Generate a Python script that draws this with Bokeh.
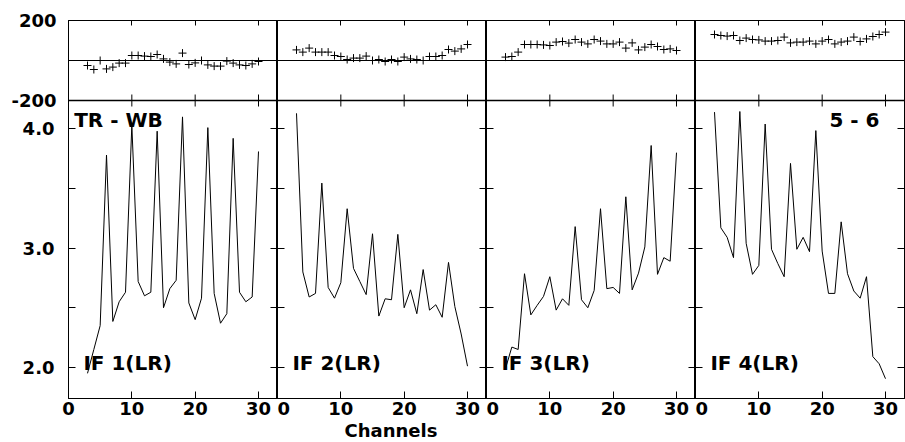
import math
from bokeh.plotting import figure
from bokeh.models import (Range1d, LinearAxis, FixedTicker, Span, Label, Title,
                          PrintfTickFormatter)
from bokeh.layouts import row
from bokeh.embed import file_html
from bokeh.resources import INLINE

# ---------------- data ----------------
channels = list(range(3, 31))

amp_if1 = [1.95, 2.15, 2.35, 3.78, 2.385, 2.55, 2.63, 4.03, 2.72, 2.60, 2.63, 3.98, 2.50, 2.66,
           2.73, 4.10, 2.54, 2.40, 2.58, 4.01, 2.62, 2.37, 2.45, 3.92, 2.63, 2.55, 2.59, 3.81]
amp_if2 = [4.13, 2.80, 2.59, 2.62, 3.545, 2.67, 2.58, 2.71, 3.33, 2.83, 2.72, 2.61, 3.12, 2.43,
           2.575, 2.567, 3.115, 2.50, 2.65, 2.45, 2.82, 2.48, 2.525, 2.42, 2.88, 2.51, 2.28, 2.01]
amp_if3 = [1.99, 2.17, 2.15, 2.785, 2.44, 2.52, 2.595, 2.76, 2.48, 2.575, 2.52, 3.18, 2.567, 2.50,
           2.645, 3.33, 2.66, 2.67, 2.62, 3.43, 2.65, 2.79, 3.01, 3.86, 2.78, 2.92, 2.89, 3.80]
amp_if4 = [4.14, 3.17, 3.09, 2.92, 4.145, 3.04, 2.78, 2.855, 4.04, 2.99, 2.87, 2.76, 3.71, 2.99,
           3.09, 2.97, 3.985, 2.975, 2.62, 2.62, 3.22, 2.785, 2.64, 2.58, 2.76, 2.09, 2.03, 1.905]

phase_if1 = [-25, -45, 0, -42, -33, -13, -13, 25, 25, 22, 20, 30, 8, -8,
             -17, 37, -20, -12, 0, -22, -28, -28, -3, -13, -22, -25, -17, -5]
phase_if2 = [53, 42, 62, 42, 42, 42, 25, 20, 5, 12, 12, 22, 0, 5,
             -5, 5, -5, 17, 8, 5, 0, 20, 20, 25, 55, 47, 58, 80]
phase_if3 = [17, 20, 42, 80, 80, 80, 78, 75, 92, 95, 87, 105, 92, 83,
             105, 97, 83, 83, 92, 62, 88, 53, 67, 80, 70, 55, 58, 50]
phase_if4 = [130, 125, 122, 125, 100, 112, 105, 103, 97, 97, 100, 117, 88, 92,
             92, 97, 83, 97, 105, 83, 92, 97, 117, 95, 108, 120, 130, 142]

panel_labels = ["IF 1(LR)", "IF 2(LR)", "IF 3(LR)", "IF 4(LR)"]
x_ticks = [0, 10, 20, 30]
amp_ticks = [2.0, 3.0, 4.0]
amp_minor = [2.5, 3.5]
phase_ticks = [-200, 200]
baseline_label = "TR - WB"
pair_label = "5 - 6"
x_title = "Channels"

amps = [amp_if1, amp_if2, amp_if3, amp_if4]
phases = [phase_if1, phase_if2, phase_if3, phase_if4]

FONT = "DejaVu Sans"


def style_axis(ax, labels, tick_in=7, standoff=0):
    ax.axis_line_color = "black"
    ax.axis_line_width = 1
    ax.major_tick_in = tick_in
    ax.major_tick_out = 0
    ax.minor_tick_in = tick_in
    ax.minor_tick_out = 0
    ax.major_tick_line_color = "black"
    ax.minor_tick_line_color = "black"
    ax.axis_label = None
    if labels:
        ax.major_label_text_font = FONT
        ax.major_label_text_font_style = "bold"
        ax.major_label_text_font_size = "18px"
        ax.major_label_text_color = "black"
        ax.major_label_standoff = standoff
    else:
        ax.major_label_text_font_size = "0px"
        ax.major_label_text_color = None
        ax.major_label_standoff = 0


figs = []
for i in range(4):
    first = i == 0
    last = i == 3
    p = figure(frame_width=209, frame_height=378,
               x_range=Range1d(0, 33), y_range=Range1d(1.739, 4.908),
               output_backend="svg", toolbar_location=None,
               x_axis_location=None, y_axis_location=None,
               min_border=0, min_border_left=68 if first else 0,
               min_border_right=1 if last else 0,
               min_border_top=20, min_border_bottom=0 if i == 1 else 40)
    p.extra_y_ranges = {"top": Range1d(-1690, 200)}
    p.xgrid.visible = False
    p.ygrid.visible = False
    p.outline_line_color = "black"
    p.outline_line_width = 1
    p.background_fill_color = "white"
    p.border_fill_color = "white"

    bottom = LinearAxis(ticker=FixedTicker(ticks=x_ticks))
    style_axis(bottom, True, standoff=3)
    p.add_layout(bottom, "below")

    top = LinearAxis(ticker=FixedTicker(ticks=x_ticks))
    style_axis(top, False, tick_in=5)
    p.add_layout(top, "above")

    left = LinearAxis(ticker=FixedTicker(ticks=amp_ticks, minor_ticks=amp_minor),
                      formatter=PrintfTickFormatter(format="%.1f"))
    style_axis(left, first, standoff=14)
    p.add_layout(left, "left")

    if first:
        # phase axis labels (outer axis, labels pulled in next to the frame)
        ph = LinearAxis(y_range_name="top", ticker=FixedTicker(ticks=phase_ticks),
                        formatter=PrintfTickFormatter(format="%d"))
        style_axis(ph, True, standoff=-37)
        ph.axis_line_color = None
        ph.major_tick_line_color = None
        ph.minor_tick_line_color = None
        p.add_layout(ph, "left")

    right = LinearAxis(ticker=FixedTicker(ticks=amp_ticks, minor_ticks=amp_minor))
    style_axis(right, False)
    p.add_layout(right, "right")

    # top (phase) panel
    p.add_layout(Span(location=0, dimension="width", y_range_name="top",
                      line_color="black", line_width=1.2))
    p.add_layout(Span(location=-200, dimension="width", y_range_name="top",
                      line_color="black", line_width=1.5))
    p.scatter(x_ticks[1:], [-200] * 3, marker="dash", angle=math.pi / 2, size=12,
              line_color="black", line_width=1, y_range_name="top")
    p.scatter(channels, phases[i], marker="cross", size=8, line_color="black",
              line_width=1, y_range_name="top")

    # amplitude panel
    p.line(channels, amps[i], line_color="black", line_width=1)

    p.add_layout(Label(x=2.35, y=2.04, text=panel_labels[i], text_font=FONT,
                       text_font_style="bold", text_font_size="20px", text_color="black",
                       text_baseline="middle", text_align="left"))

    if first:
        p.add_layout(Label(x=0.9, y=4.07, text=baseline_label, text_font=FONT,
                           text_font_style="bold", text_font_size="20px", text_color="black",
                           text_baseline="middle", text_align="left"))
    if i == 1:
        p.add_layout(Title(text=x_title, align="left", offset=67, standoff=0,
                           text_font=FONT, text_font_style="bold", text_font_size="18px",
                           text_color="black", text_line_height=1.0), "below")
    if last:
        p.add_layout(Label(x=29.05, y=4.07, text=pair_label, text_font=FONT,
                           text_font_style="bold", text_font_size="20px", text_color="black",
                           text_baseline="middle", text_align="right"))
    figs.append(p)

layout = row(*figs)
open("out.html", "w").write(file_html(layout, INLINE))
